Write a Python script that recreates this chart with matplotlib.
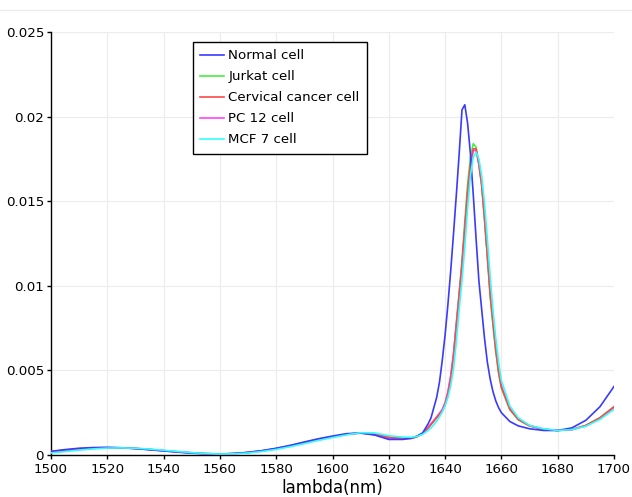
import matplotlib.pyplot as plt
from matplotlib.lines import Line2D
import numpy as np

# wavelength grid (nm)
wl = [1500, 1505, 1510, 1515, 1520, 1525, 1530, 1535, 1540, 1545, 1550, 1555,
      1560, 1565, 1570, 1575, 1580, 1585, 1590, 1595, 1600, 1605, 1610, 1615,
      1620, 1625, 1628, 1630, 1632, 1634, 1635, 1636, 1637, 1638, 1639, 1640,
      1641, 1642, 1643, 1644, 1645, 1646, 1647, 1648, 1649, 1650, 1651, 1652,
      1653, 1654, 1655, 1656, 1657, 1658, 1659, 1660, 1663, 1666, 1670, 1675,
      1680, 1685, 1690, 1695, 1700]

# values x1e-3
normal = [0.22, 0.32, 0.40, 0.44, 0.45, 0.43, 0.38, 0.31, 0.24, 0.17, 0.11, 0.07,
          0.06, 0.09, 0.16, 0.26, 0.40, 0.57, 0.77, 0.96, 1.12, 1.26, 1.30, 1.18,
          0.92, 0.92, 1.00, 1.12, 1.30, 1.85, 2.2, 2.8, 3.4, 4.3, 5.6, 7.1,
          8.9, 10.9, 13.1, 15.4, 17.8, 20.4, 20.7, 19.6, 17.8, 15.4, 12.8, 10.3,
          8.6, 6.9, 5.5, 4.5, 3.75, 3.2, 2.8, 2.5, 1.98, 1.72, 1.55, 1.45,
          1.45, 1.6, 2.05, 2.85, 4.05]

jurkat = [0.16, 0.26, 0.34, 0.40, 0.42, 0.42, 0.39, 0.33, 0.26, 0.19, 0.13, 0.08,
          0.06, 0.08, 0.14, 0.24, 0.37, 0.53, 0.72, 0.90, 1.07, 1.22, 1.31, 1.24,
          1.05, 0.98, 0.98, 1.08, 1.26, 1.62, 1.82, 2.02, 2.22, 2.43, 2.65, 3.05,
          3.7, 4.6, 6.0, 7.8, 9.6, 11.5, 13.8, 16.0, 17.6, 18.4, 18.2, 17.2,
          15.9, 13.9, 11.7, 9.4, 7.7, 6.1, 4.85, 3.95, 2.68, 2.08, 1.72, 1.52,
          1.45, 1.5, 1.75, 2.2, 2.85]

cervical = [0.15, 0.25, 0.33, 0.39, 0.42, 0.42, 0.39, 0.33, 0.26, 0.19, 0.13, 0.08,
            0.06, 0.08, 0.14, 0.24, 0.37, 0.53, 0.72, 0.90, 1.07, 1.22, 1.31, 1.24,
            1.05, 0.98, 0.98, 1.08, 1.25, 1.6, 1.8, 2.0, 2.2, 2.4, 2.6, 3.0,
            3.6, 4.5, 5.8, 7.6, 9.4, 11.2, 13.4, 15.6, 17.2, 18.1, 18.1, 17.2,
            16.0, 14.0, 11.8, 9.5, 7.8, 6.2, 4.9, 4.0, 2.7, 2.1, 1.72, 1.52,
            1.45, 1.5, 1.75, 2.2, 2.85]

pc12 = [0.20, 0.29, 0.37, 0.42, 0.44, 0.42, 0.38, 0.32, 0.25, 0.18, 0.12, 0.08,
        0.06, 0.08, 0.15, 0.25, 0.38, 0.55, 0.74, 0.93, 1.09, 1.23, 1.29, 1.20,
        0.98, 0.95, 0.99, 1.10, 1.28, 1.65, 1.85, 2.05, 2.25, 2.47, 2.7, 3.1,
        3.75, 4.7, 6.0, 7.8, 9.5, 11.3, 13.4, 15.5, 17.1, 18.0, 18.0, 17.2,
        16.0, 14.1, 11.9, 9.7, 8.0, 6.4, 5.05, 4.1, 2.75, 2.12, 1.74, 1.53,
        1.45, 1.5, 1.72, 2.15, 2.8]

mcf7 = [0.12, 0.20, 0.29, 0.36, 0.41, 0.42, 0.40, 0.35, 0.28, 0.21, 0.14, 0.09,
        0.06, 0.07, 0.12, 0.21, 0.33, 0.49, 0.67, 0.86, 1.03, 1.19, 1.32, 1.30,
        1.14, 1.06, 1.05, 1.10, 1.22, 1.45, 1.6, 1.8, 2.0, 2.25, 2.55, 2.9,
        3.4, 4.1, 5.1, 6.7, 8.6, 10.3, 12.3, 14.6, 16.5, 17.6, 17.9, 17.5,
        16.5, 14.9, 12.8, 10.6, 8.6, 6.9, 5.5, 4.4, 2.9, 2.2, 1.75, 1.55,
        1.45, 1.5, 1.7, 2.1, 2.7]

labels = ['Normal cell', 'Jurkat cell', 'Cervical cancer cell', 'PC 12 cell', 'MCF 7 cell']
colors = ['#3a3aff', '#44ee44', '#ff4848', '#ff44ff', '#33ffff']
zorders = [6, 3, 5, 4, 7]

fig = plt.figure(figsize=(6.32, 4.97), dpi=100)
ax = fig.add_axes([51 / 632, 42 / 497, 563 / 632, 423 / 497])

x = np.array(wl)
for ys, lab, c, z in zip([normal, jurkat, cervical, pc12, mcf7], labels, colors, zorders):
    ax.plot(x, np.array(ys) * 1e-3, color=c, lw=1.2, label=lab, zorder=z)

ax.set_xlim(1500, 1700)
ax.set_ylim(0, 0.025)
ax.set_xticks(np.arange(1500, 1701, 20))
ax.set_yticks([0, 0.005, 0.01, 0.015, 0.02, 0.025])
ax.set_yticklabels(['0', '0.005', '0.01', '0.015', '0.02', '0.025'])
ax.grid(True, color='#ececec', lw=0.8)
ax.set_axisbelow(True)
for s in ['top', 'right']:
    ax.spines[s].set_visible(False)
for s in ['left', 'bottom']:
    ax.spines[s].set_color('black')
    ax.spines[s].set_linewidth(1.0)
ax.tick_params(direction='out', length=3, width=1, labelsize=9.6, colors='black')
ax.tick_params(axis='x', pad=3)
ax.tick_params(axis='y', pad=2)
ax.set_xlabel('lambda(nm)', fontsize=12, labelpad=2)

leg = ax.legend(loc='upper left', bbox_to_anchor=(142 / 563, 413 / 423), borderaxespad=0,
                fontsize=9.6, fancybox=False, framealpha=1, edgecolor='black',
                handlelength=1.8, labelspacing=0.6, handletextpad=0.3, borderpad=0.55)
leg.get_frame().set_linewidth(1.0)

fig.add_artist(Line2D([0, 1], [1 - 10 / 497, 1 - 10 / 497], color='#ebebeb', lw=1))

fig.savefig('out.png', dpi=100)
